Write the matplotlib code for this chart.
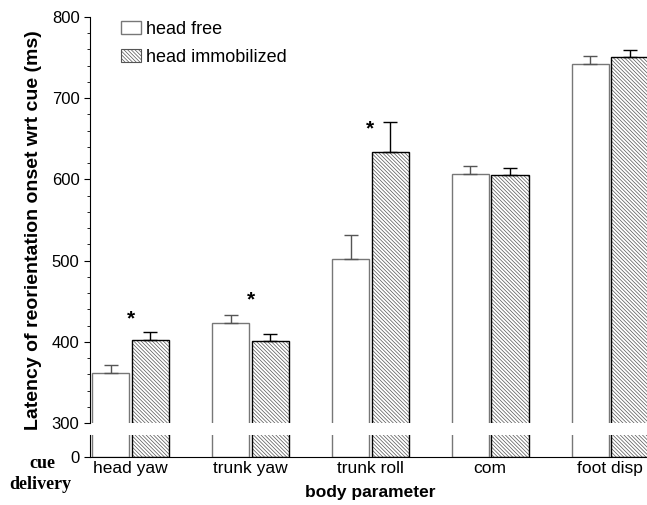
import matplotlib.pyplot as plt
import numpy as np

plt.rcParams['font.family'] = ['Liberation Sans', 'DejaVu Sans']
plt.rcParams['hatch.linewidth'] = 0.5

# values (ms)
params = ['head yaw', 'trunk yaw', 'trunk roll', 'com', 'foot disp']
free_mean = [361, 423, 502, 607, 742]
free_err = [11, 10, 29, 9, 10]
immob_mean = [402, 401, 634, 605, 751]
immob_err = [10, 9, 37, 9, 8]
star_at = [0, 1, 2]
star_y = [428, 452, 662]

x = np.arange(len(params))
w = 0.31
off = 0.165
hatch = '\\' * 9

fig = plt.figure(figsize=(6.47, 5.05), dpi=100)
ax = fig.add_axes([0.139, 0.1624, 0.865, 0.804])
axb = fig.add_axes([0.139, 0.095, 0.865, 0.0436])

for a in (ax, axb):
    a.bar(x - off, free_mean, w, color='white', edgecolor='#777777', linewidth=1.0)
    # hatch drawn in grey, outline in black on top
    a.bar(x + off, immob_mean, w, color='white', edgecolor='#555555', linewidth=0,
          hatch=hatch)
    a.bar(x + off, immob_mean, w, fill=False, edgecolor='black', linewidth=1.0)
    a.set_xlim(-0.34, 4.33)
    for s in ('top', 'right'):
        a.spines[s].set_visible(False)

ax.errorbar(x - off, free_mean, yerr=[np.zeros(5), free_err], fmt='none',
            ecolor='#555555', elinewidth=1, capsize=5, capthick=1)
ax.errorbar(x + off, immob_mean, yerr=[np.zeros(5), immob_err], fmt='none',
            ecolor='black', elinewidth=1, capsize=5, capthick=1)
for i, yy in zip(star_at, star_y):
    ax.text(x[i], yy, '*', ha='center', va='center', fontsize=15, fontweight='bold')

ax.set_ylim(300, 800)
ax.set_yticks(np.arange(300, 801, 100))
ax.set_yticks(np.arange(300, 801, 20), minor=True)
ax.tick_params(axis='y', labelsize=12, length=4, width=0.8)
ax.tick_params(axis='y', which='minor', length=2, width=0.6)
ax.spines['bottom'].set_visible(False)
ax.set_xticks([])
ax.set_ylabel('Latency of reorientation onset wrt cue (ms)', fontsize=14,
              fontweight='bold')
ax.yaxis.set_label_coords(-0.085, 0.475)

axb.set_ylim(0, 27)
axb.set_yticks([0])
axb.tick_params(axis='y', labelsize=12, length=4, width=0.8)
axb.set_xticks(x)
axb.set_xticklabels(params, fontsize=12.5)
axb.tick_params(axis='x', length=0, pad=3)
axb.set_xlabel('body parameter', fontsize=12.5, fontweight='bold', labelpad=6)
fig.text(0.066, 0.083, 'cue', family='Liberation Serif', fontweight='bold',
         fontsize=13, ha='center', va='center')
fig.text(0.062, 0.041, 'delivery', family='Liberation Serif', fontweight='bold',
         fontsize=13, ha='center', va='center')

from matplotlib.patches import Patch
handles = [Patch(facecolor='white', edgecolor='#777777', linewidth=1.0),
           Patch(facecolor='white', edgecolor='#555555', hatch=hatch, linewidth=0.8)]
ax.legend(handles, ['head free', 'head immobilized'], loc='upper left',
          bbox_to_anchor=(0.026, 1.03), frameon=False, fontsize=13,
          handlelength=1.1, handleheight=0.75, handletextpad=0.3, labelspacing=0.6)

fig.savefig('out.png', dpi=100)
